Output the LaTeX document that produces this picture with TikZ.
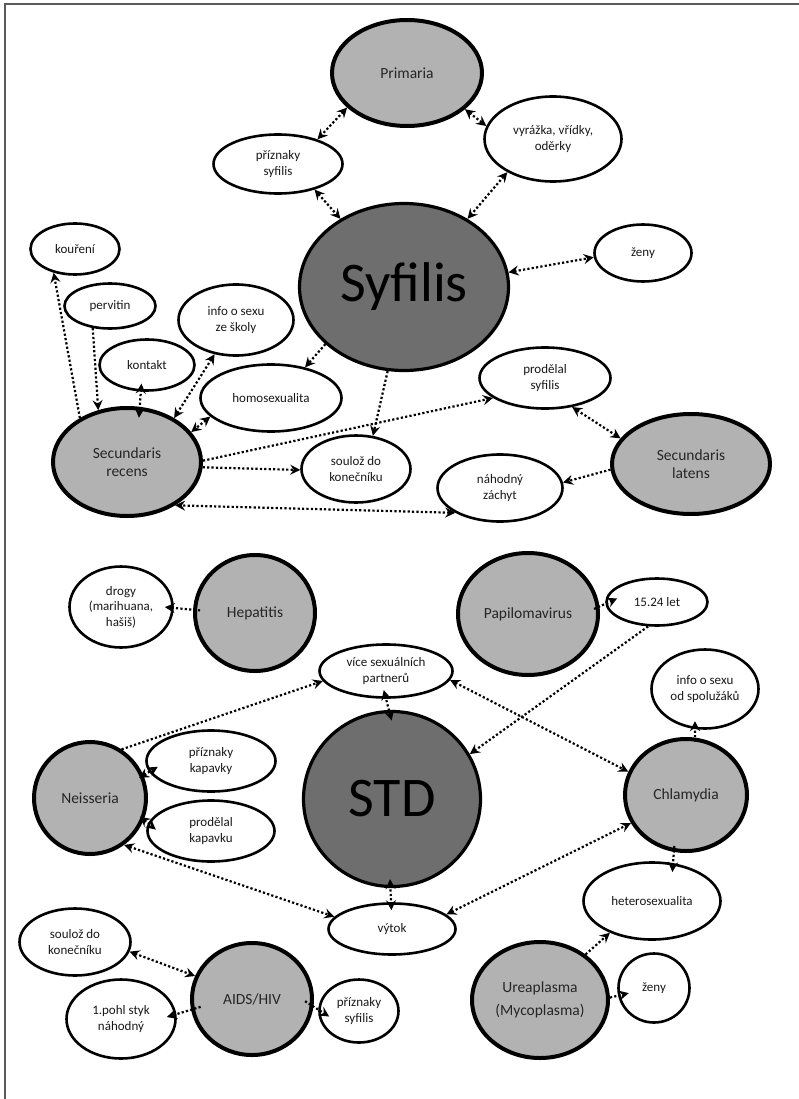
\documentclass[tikz,border=0pt]{standalone}
\usepackage{fontspec}
\setmainfont{Carlito}
\usetikzlibrary{shapes.geometric,arrows.meta}
\definecolor{lightg}{RGB}{178,178,178}
\definecolor{darkg}{RGB}{110,110,110}
\definecolor{framec}{RGB}{90,90,90}
\begin{document}
\begin{tikzpicture}[x=1pt,y=-1pt,
  sz/.style 2 args={minimum width=#1pt,minimum height=#2pt},
  wn/.style={ellipse,draw=black,line width=2.6pt,fill=white,inner sep=0pt,align=center,
    font=\fontsize{13}{15.5}\selectfont,text=black!90},
  gn/.style={ellipse,draw=black,line width=4pt,fill=lightg,inner sep=0pt,align=center,
    font=\fontsize{15.5}{18.5}\selectfont,text=black!85},
  dn/.style={ellipse,draw=black,line width=3.2pt,fill=darkg,inner sep=0pt,
    font=\fontsize{56}{60}\selectfont,text=black},
  con/.style={line width=2.2pt,dash pattern=on 2.2pt off 2.2pt},
  tip/.tip={Stealth[length=10pt,width=10pt,inset=3.5pt]},
  bi/.style={con,tip-tip},
  uni/.style={con,-tip},
  ext/.style 2 args={shorten <=-#1pt,shorten >=-#2pt}]
\useasboundingbox (0,0) rectangle (799,1099);
\fill[white] (0,0) rectangle (799,1099);
\draw[framec,line width=2pt] (5,1099) -- (5,4) -- (799,4);

% ---- Syfilis part ----
\node[gn,sz={150}{106}] (pri) at (407,73) {Primaria};
\node[wn,sz={129}{59}] (ps1) at (278,164) {příznaky\\syfilis};
\node[wn,sz={137}{85}] (vyr) at (553,139) {vyrážka, vřídky,\\oděrky};
\node[dn,sz={209}{167}] (syf) at (404,287) {Syfilis};
\node[wn,sz={97}{57}] (zen1) at (643,253) {ženy};
\node[wn,sz={89}{51}] (kou) at (75,249) {kouření};
\node[wn,sz={91}{45}] (per) at (110,306) {pervitin};
\node[wn,sz={115}{71}] (inf1) at (236,320) {info o sexu\\ze školy};
\node[wn,sz={95}{51}] (kon) at (147,365) {kontakt};
\node[wn,sz={141}{67}] (hom) at (271,398) {homosexualita};
\node[gn,sz={148}{108}] (rec) at (127,462) {Secundaris\\recens};
\node[wn,sz={109}{67}] (sou1) at (356,469) {soulož do\\konečníku};
\node[wn,sz={131}{61}] (pro1) at (545,378) {prodělal\\syfilis};
\node[gn,sz={158}{100}] (lat) at (691,464) {Secundaris\\latens};
\node[wn,sz={125}{67}] (nah) at (500,488) {náhodný\\záchyt};

% ---- STD part ----
\node[gn,sz={120}{116}] (hep) at (255,613) {Hepatitis};
\node[wn,sz={103}{81}] (dro) at (121,607) {drogy\\(marihuana,\\hašiš)};
\node[gn,sz={140}{122}] (pap) at (528,614) {Papilomavirus};
\node[wn,sz={101}{47}] (let) at (657,602) {15.24 let};
\node[wn,sz={133}{53}] (vic) at (386,671) {více sexuálních\\partnerů};
\node[dn,sz={177}{175}] (std) at (392,799) {STD};
\node[wn,sz={107}{79}] (inf2) at (705,689) {info o sexu\\od spolužáků};
\node[gn,sz={122}{112}] (chl) at (686,795) {Chlamydia};
\node[gn,sz={112}{112}] (nei) at (90,798) {Neisseria};
\node[wn,sz={129}{61}] (kap1) at (211,761) {příznaky\\kapavky};
\node[wn,sz={127}{61}] (kap2) at (211,831) {prodělal\\kapavku};
\node[wn,sz={127}{51}] (vyt) at (392,929) {výtok};
\node[wn,sz={137}{77}] (het) at (652,901) {heterosexualita};
\node[wn,sz={111}{67}] (sou2) at (75,942) {soulož do\\konečníku};
\node[gn,sz={120}{112}] (aid) at (252,999) {AIDS/HIV};
\node[wn,sz={109}{79}] (poh) at (121,1019) {1.pohl styk\\náhodný};
\node[wn,sz={79}{63}] (ps2) at (359,1011) {příznaky\\syfilis};
\node[gn,sz={136}{116}] (ure) at (540,1000) {Ureaplasma\\[5pt](Mycoplasma)};
\node[wn,sz={71}{69}] (zen2) at (654,988) {ženy};

% ---- connectors (Syfilis) ----
\draw[bi] (pri.210) -- (ps1.32);
\draw[bi] (pri.-32) -- (vyr.169);
\draw[bi] (ps1.-35) -- (syf.133);
\draw[bi] (vyr.216) -- (syf.47);
\draw[bi] (syf.8) -- (zen1.185);
\draw[uni] (rec.137) -- (kou.228);
\draw[uni] (per.232) -- (rec.119);
\draw[bi,ext={8}{11}] (kon.257) -- (rec.77);
\draw[bi] (inf1.238) -- (rec.43);
\draw[bi] (hom.197) -- (rec.25);
\draw[uni] (syf.216) -- (hom.42);
\draw[uni] (syf.259) -- (sou1.63);
\draw[uni] (rec.1) -- (pro1.201);
\draw[uni] (rec.-4) -- (sou1.181);
\draw[bi] (nah.209) -- (rec.-42);
\draw[bi] (pro1.-47) -- (lat.160);
\draw[uni] (lat.184) -- (nah.5);

% ---- connectors (STD) ----
\draw[uni,ext={7}{9}] (hep.177) -- (dro.-1);
\draw[uni,ext={6}{13}] (pap.6) -- (let.182);
\draw[uni] (let.250) -- (std.30);
\draw[uni] (nei.57) -- (vic.189);
\draw[bi,ext={9}{11}] (vic.270) -- (std.92);
\draw[bi] (vic.-8) -- (chl.158);
\draw[uni,ext={4}{8}] (chl.81) -- (inf2.256);
\draw[bi,ext={5}{10}] (nei.23) -- (kap1.190);
\draw[bi,ext={5}{10}] (nei.-22) -- (kap2.173);
\draw[bi] (nei.-54) -- (vyt.168);
\draw[bi,ext={9}{8}] (std.269) -- (vyt.92);
\draw[bi] (vyt.15) -- (chl.207);
\draw[uni,ext={6}{9}] (chl.258) -- (het.61);
\draw[uni] (ure.45) -- (het.217);
\draw[uni,ext={0}{11}] (ure.2) -- (zen2.192);
\draw[bi] (sou2.-10) -- (aid.158);
\draw[uni,ext={10}{10}] (aid.190) -- (poh.5);
\draw[uni,ext={10}{13}] (aid.-7) -- (ps2.178);
\end{tikzpicture}
\end{document}
